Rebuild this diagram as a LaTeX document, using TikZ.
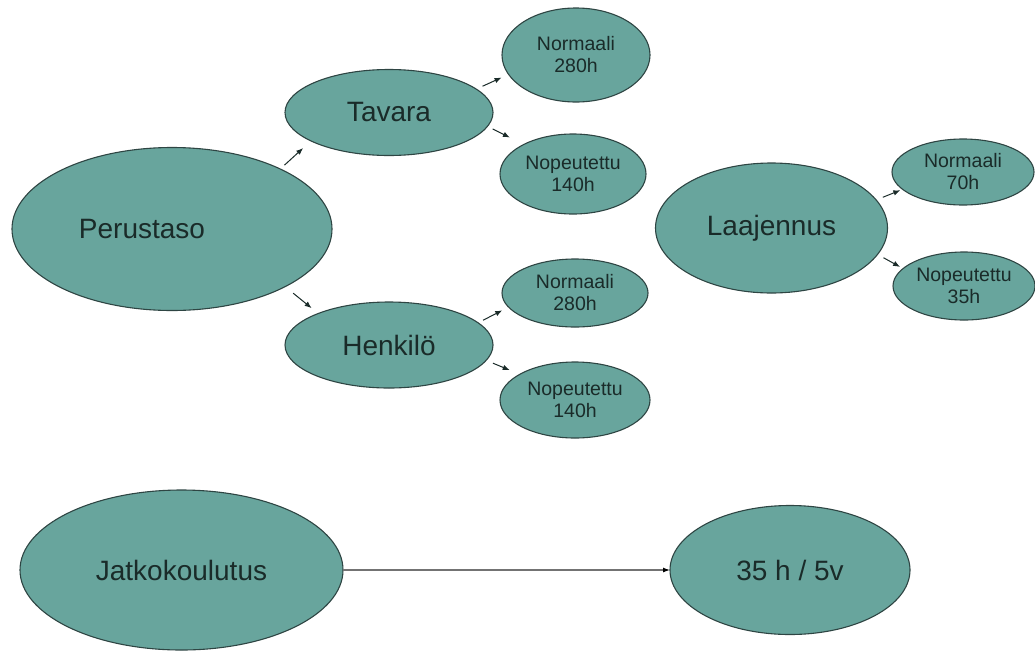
\documentclass[tikz,border=0pt]{standalone}
\usepackage{fontspec}
\setmainfont{Liberation Sans}
\usetikzlibrary{shapes.geometric,arrows.meta}
\definecolor{tealfill}{HTML}{68A59D}
\definecolor{rim}{HTML}{2E4543}
\definecolor{ink}{HTML}{1A2B29}
\begin{document}
\begin{tikzpicture}[x=1pt,y=-1pt,
  oval/.style={ellipse, draw=rim, line width=1.1pt, fill=tealfill,
    inner sep=0pt, outer sep=0pt, text=ink, align=center},
  bigtxt/.style={font=\fontsize{28}{32}\selectfont},
  big/.style={oval, bigtxt},
  small/.style={oval, font=\fontsize{19.5}{22}\selectfont},
  arr/.style={-{Latex[length=7pt,width=5.5pt]}, line width=1pt, draw=ink},
]
\useasboundingbox (0,0) rectangle (1035,651);

% main levels
\node[big, minimum width=320pt, minimum height=163pt,
      label={[bigtxt, text=ink, xshift=-30pt]center:Perustaso}] (per) at (172,229) {};
\node[big, minimum width=208pt, minimum height=86pt] (tav) at (389,112.5) {Tavara};
\node[big, minimum width=208pt, minimum height=86pt] (hen) at (389,345) {Henkilö};
\node[big, minimum width=232pt, minimum height=130pt] (laa) at (771.5,228) {Laajennus};

% course variants
\node[small, minimum width=148pt, minimum height=94pt] (nor1) at (576,55) {Normaali\\280h};
\node[small, minimum width=146pt, minimum height=80pt] (nop1) at (573,174) {Nopeutettu\\140h};
\node[small, minimum width=146pt, minimum height=68pt] (nor2) at (575,293) {Normaali\\280h};
\node[small, minimum width=150pt, minimum height=76pt] (nop2) at (575,400) {Nopeutettu\\140h};
\node[small, minimum width=142pt, minimum height=66pt] (n70) at (963,172) {Normaali\\70h};
\node[small, minimum width=142pt, minimum height=68pt] (n35) at (964,286) {Nopeutettu\\35h};

% further training
\node[big, minimum width=323pt, minimum height=160pt] (jat) at (181.5,570) {Jatkokoulutus};
\node[big, minimum width=240pt, minimum height=129pt] (t35) at (790,570) {35 h / 5v};

% short arrows between the ovals
\draw[arr, shorten <=5.7pt, shorten >=10.6pt] (per.29) -- (tav.200);
\draw[arr, shorten <=10.4pt, shorten >=8.5pt] (per.333) -- (hen.156);
\draw[arr, shorten <=6.9pt, shorten >=7.7pt] (tav.15) -- (nor1.196);
\draw[arr, shorten <=5.8pt, shorten >=15.5pt] (tav.352) -- (nop1.149);
\draw[arr, shorten <=5.6pt, shorten >=7.1pt] (hen.14) -- (nor2.192);
\draw[arr, shorten <=7.4pt, shorten >=10.9pt] (hen.351) -- (nop2.155);
\draw[arr, shorten <=7.2pt, shorten >=2.4pt] (laa.15) -- (n70.196);
\draw[arr, shorten <=6.8pt, shorten >=3.4pt] (laa.346) -- (n35.164);

% long connector
\draw[-{Latex[length=7pt,width=5pt,color=black]}, line width=1.2pt, draw=black!55] (jat) -- (t35);
\end{tikzpicture}
\end{document}
